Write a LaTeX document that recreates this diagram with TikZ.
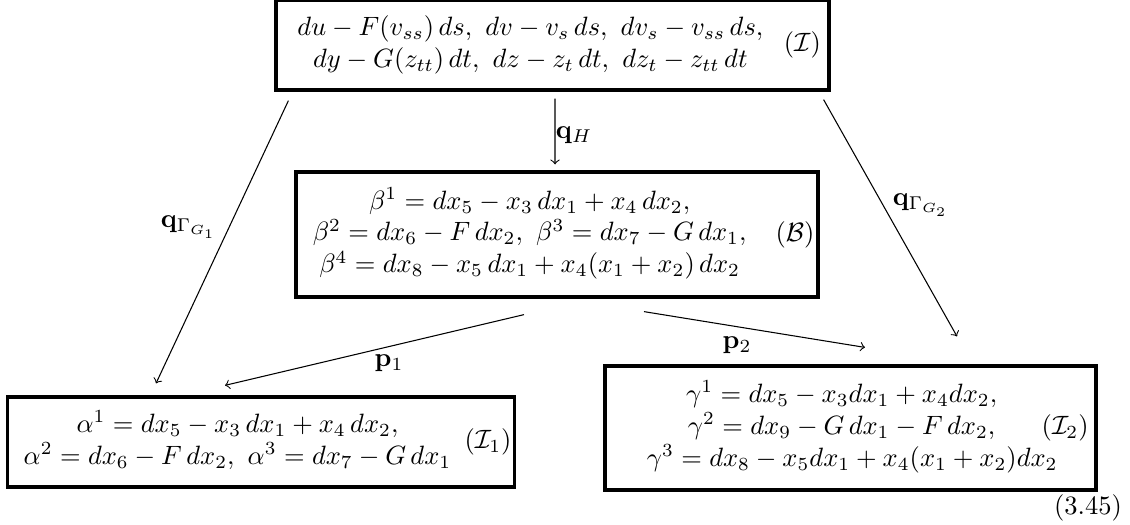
\documentclass[tikz,border=0pt]{standalone}
\usepackage{amsmath,amssymb}
\usepackage{tikz}
\usetikzlibrary{calc}

\begin{document}
\begin{tikzpicture}[x=0.3774pt,y=-0.3774pt,>=to,
    sysbox/.style={draw,line width=1.2pt,inner sep=1pt,align=center},
    lab/.style={inner sep=1pt}]
  \useasboundingbox (0,0) rectangle (1130,525);
  % the four systems
  \node[sysbox,minimum width=208.7pt,minimum height=34pt] (Ibox) at (552.5,45)
    {$\begin{array}{c}
      du-F(v_{ss})\,ds,\ dv-v_s\,ds,\ dv_s-v_{ss}\,ds,\\
      dy-G(z_{tt})\,dt,\ dz-z_t\,dt,\ dz_t-z_{tt}\,dt
     \end{array}\;(\mathcal{I})$};
  \node[sysbox,minimum width=197pt,minimum height=47.2pt] (Bbox) at (557,234.5)
    {$\begin{array}{c}
      \beta^1=dx_5-x_3\,dx_1+x_4\,dx_2,\\
      \beta^2=dx_6-F\,dx_2,\ \beta^3=dx_7-G\,dx_1,\\
      \beta^4=dx_8-x_5\,dx_1+x_4(x_1+x_2)\,dx_2
     \end{array}\hspace{6pt}(\mathcal{B})$};
  \node[sysbox,minimum width=191pt,minimum height=34pt] (I1box) at (261,442)
    {$\begin{array}{c}
      \alpha^1=dx_5-x_3\,dx_1+x_4\,dx_2,\\
      \alpha^2=dx_6-F\,dx_2,\ \alpha^3=dx_7-G\,dx_1
     \end{array}(\mathcal{I}_1)$};
  \node[sysbox,minimum width=185.3pt,minimum height=46.8pt] (I2box) at (850.5,428)
    {$\begin{array}{c}
      \gamma^1=dx_5-x_3dx_1+x_4dx_2,\\
      \gamma^2=dx_9-G\,dx_1-F\,dx_2,\\
      \hspace{8pt}\gamma^3=dx_8-x_5dx_1+x_4(x_1+x_2)dx_2
     \end{array}\hspace{-11pt}(\mathcal{I}_2)$};
  % the maps
  \draw[->] ($(Ibox.south west)+(14,9)$) -- ($(I1box.north)+(-105,-12)$);
  \draw[->] ($(Ibox.south)+(2.5,7)$) -- ($(Bbox.north)+(-2,-6)$);
  \draw[->] ($(Ibox.south east)+(-7,8)$) -- ($(I2box.north)+(106.5,-28)$);
  \draw[->] ($(Bbox.south)+(-33,16)$) -- ($(I1box.north)+(-36,-10)$);
  \draw[->] ($(Bbox.south)+(87,13)$) -- ($(I2box.north)+(14.5,-17)$);
  \node[lab] (qG1) at (189,227) {$\mathbf{q}_{\Gamma_{G_1}}$};
  \node[lab] (qH) at (574,135) {$\mathbf{q}_H$};
  \node[lab] (qG2) at (921,205) {$\mathbf{q}_{\Gamma_{G_2}}$};
  \node[lab] (p1) at (389,363) {$\mathbf{p}_1$};
  \node[lab] (p2) at (737,345) {$\mathbf{p}_2$};
  \node[lab] (eqno) at (1088,508) {(3.45)};
\end{tikzpicture}
\end{document}
